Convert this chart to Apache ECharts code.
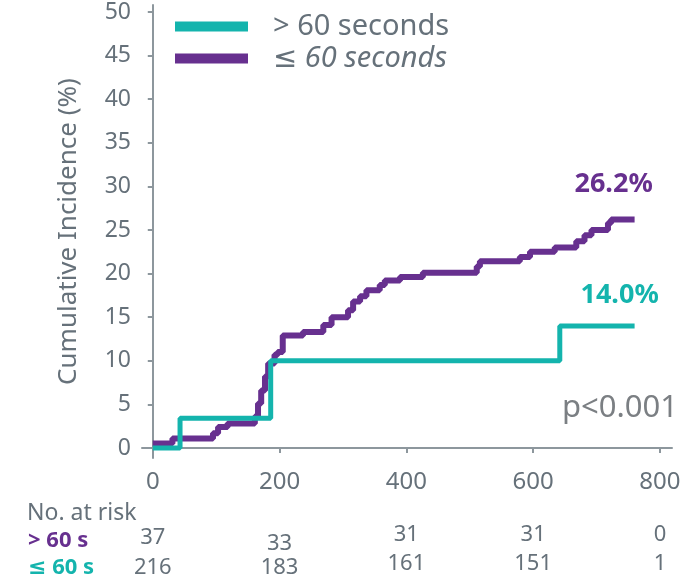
<!DOCTYPE html>
<html>
<head>
<meta charset="utf-8">
<script src="https://cdn.jsdelivr.net/npm/echarts@6/dist/echarts.min.js"></script>
<style>
  html, body { margin: 0; padding: 0; background: #ffffff; }
  #chart { width: 698px; height: 579px; }
</style>
</head>
<body>
<div id="chart"></div>
<script>
// Kaplan-Meier style cumulative incidence, two groups
const xTicks = [0, 200, 400, 600, 800];
const yTicks = [0, 5, 10, 15, 20, 25, 30, 35, 40, 45, 50];

// > 60 seconds group (teal)
const overTimes  = [0, 43, 186, 642, 760];
const overValues = [0, 3.4, 10.0, 14.0, 14.0];

// <= 60 seconds group (purple)
const underTimes  = [0, 31, 95, 103, 118, 161, 166, 171, 177, 182, 192, 197, 205, 237, 269, 282, 308, 316, 327, 337, 358, 366, 390, 426, 511, 516, 579, 595, 634, 668, 681, 692, 718, 723, 760];
const underValues = [0.5, 1.1, 1.7, 2.4, 2.8, 3.6, 5.1, 6.6, 8.2, 9.7, 10.7, 11.0, 12.9, 13.3, 14.1, 15.0, 15.8, 16.8, 17.4, 18.1, 18.7, 19.2, 19.6, 20.1, 20.8, 21.4, 21.9, 22.5, 23.0, 23.7, 24.4, 25.0, 25.8, 26.2, 26.2];

// Numbers at risk at each x tick
const riskOver  = [37, 33, 31, 31, 0];
const riskUnder = [216, 183, 161, 151, 1];

const seriesNames = ['> 60 seconds', '≤ 60 seconds'];
const pValueText = 'p<0.001';

const TEAL = '#14b4ad';
const PURPLE = '#67308f';
const GREY = '#66717a';
const FONT = '"Noto Sans", "DejaVu Sans", sans-serif';

const pairs = (xs, ys) => xs.map((x, i) => [x, ys[i]]);
const overData = pairs(overTimes, overValues);
const underData = pairs(underTimes, underValues);

const endMark = (data, color, offset) => ({
  symbol: 'circle',
  symbolSize: 0,
  silent: true,
  data: [{ coord: data[data.length - 1], value: data[data.length - 1][1] }],
  label: {
    show: true,
    position: 'inside',
    offset: offset,
    formatter: p => p.value.toFixed(1) + '%',
    color: color,
    fontFamily: FONT,
    fontWeight: 'bold',
    fontSize: 27
  }
});

const chart = echarts.init(document.getElementById('chart'), null, { renderer: 'canvas' });

chart.setOption({
  animation: false,
  backgroundColor: '#ffffff',
  grid: { left: 142, right: 26, top: 5, bottom: 121, containLabel: false },
  legend: {
    orient: 'vertical',
    left: 170,
    top: 7,
    data: [seriesNames[0], seriesNames[1]],
    icon: 'rect',
    itemWidth: 73,
    itemHeight: 10,
    itemGap: 3,
    selectedMode: false,
    formatter: name => (name.charAt(0) === '≤' ? '{it|' + name + '}' : '{up|' + name + '}'),
    textStyle: {
      rich: {
        up: { fontFamily: FONT, fontSize: 29, color: GREY, padding: [0, 0, 0, 20] },
        it: { fontFamily: FONT, fontSize: 29, color: GREY, fontStyle: 'italic', padding: [0, 0, 0, 20] }
      }
    }
  },
  xAxis: {
    type: 'value',
    min: -17,
    max: 819,
    splitLine: { show: false },
    axisLine: { show: true, lineStyle: { color: '#8d979d', width: 2 } },
    axisTick: { show: true, length: 5, customValues: xTicks, lineStyle: { color: '#8d979d', width: 2 } },
    axisLabel: { customValues: xTicks, margin: 12, color: GREY, fontFamily: FONT, fontSize: 24 }
  },
  yAxis: {
    type: 'value',
    min: -1.15,
    max: 50.8,
    name: 'Cumulative Incidence (%)',
    nameLocation: 'middle',
    nameGap: 60,
    nameTextStyle: { color: GREY, fontFamily: FONT, fontSize: 26 },
    splitLine: { show: false },
    axisLine: { show: true, lineStyle: { color: '#8d979d', width: 2 } },
    axisTick: { show: true, length: 5, customValues: yTicks, lineStyle: { color: '#8d979d', width: 2 } },
    axisLabel: { customValues: yTicks, margin: 11, color: GREY, fontFamily: FONT, fontSize: 23 }
  },
  series: [
    {
      name: seriesNames[1],
      type: 'line',
      step: 'end',
      data: underData,
      showSymbol: false,
      color: PURPLE,
      lineStyle: { color: PURPLE, width: 6 },
      z: 2,
      markPoint: endMark(underData, PURPLE, [-21, -35])
    },
    {
      name: seriesNames[0],
      type: 'line',
      step: 'end',
      data: overData,
      showSymbol: false,
      color: TEAL,
      lineStyle: { color: TEAL, width: 5 },
      z: 3,
      markPoint: endMark(overData, TEAL, [-15, -31])
    }
  ]
});

// Risk table under the x axis, columns aligned to the x ticks
const xPix = v => chart.convertToPixel({ xAxisIndex: 0 }, v);
const overNudge = [0, 6, -3, -3, -3];
const underNudge = [4, 4, 0, 0, 0];
const tableText = (x, y, text, extra) => ({
  type: 'text',
  x: x,
  y: y,
  silent: true,
  style: Object.assign({
    text: text,
    fill: GREY,
    font: '22px ' + FONT,
    align: 'center',
    verticalAlign: 'middle'
  }, extra || {})
});

const graphics = [
  tableText(27, 513, 'No. at risk', { align: 'left', font: '23px ' + FONT }),
  tableText(28, 541, '> 60 s', { align: 'left', fill: PURPLE, font: 'bold 22px ' + FONT }),
  tableText(28, 568, '≤ 60 s', { align: 'left', fill: TEAL, font: 'bold 22px ' + FONT }),
  tableText(562, 408, pValueText, { align: 'left', fill: '#7b7f83', font: '31px ' + FONT })
];
xTicks.forEach((t, i) => {
  graphics.push(tableText(xPix(t), 538 + overNudge[i], String(riskOver[i])));
  graphics.push(tableText(xPix(t), 564 + underNudge[i], String(riskUnder[i])));
});
chart.setOption({ graphic: graphics });
</script>
</body>
</html>
